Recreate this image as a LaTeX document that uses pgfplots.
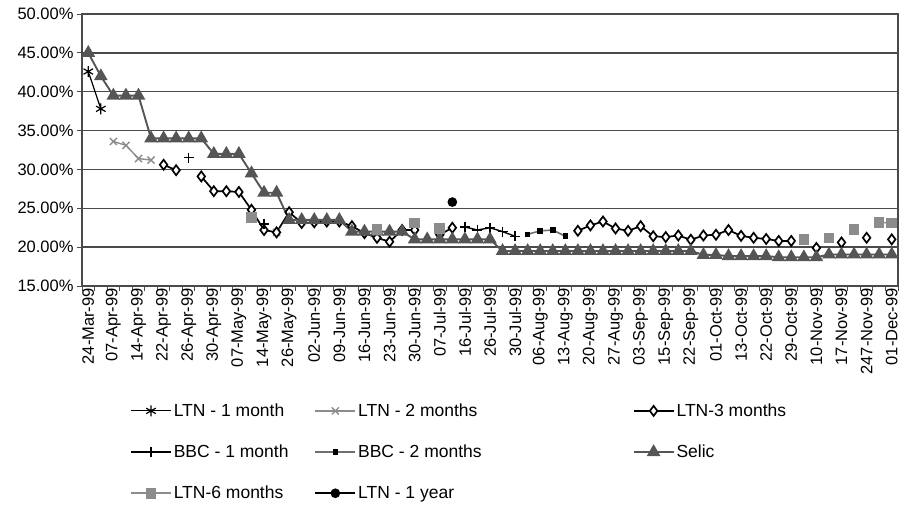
\documentclass[border=0pt]{standalone}
\usepackage{pgfplots}
\pgfplotsset{compat=1.18}
\usepackage{pgfplotstable}
\usepackage{fontspec}
\setmainfont{Liberation Sans}

\definecolor{selicgray}{HTML}{555555}
\definecolor{lightgr}{HTML}{8C8C8C}
\definecolor{midgr}{HTML}{707070}
\definecolor{gridc}{HTML}{4A4A4A}

% i = category (trading day shown), values in %
\pgfplotstableread{
i  ltnA ltnB ltnC  bbcA bbcB  selic ltnF ltnY
0  42.6 nan  nan   nan  nan   45.0  nan  nan
1  37.8 nan  nan   nan  nan   42.0  nan  nan
2  nan  33.6 nan   nan  nan   39.5  nan  nan
3  nan  33.1 nan   nan  nan   39.5  nan  nan
4  nan  31.4 nan   nan  nan   39.5  nan  nan
5  nan  31.2 nan   nan  nan   34.0  nan  nan
6  nan  nan  30.6  nan  nan   34.0  nan  nan
7  nan  nan  29.9  nan  nan   34.0  nan  nan
8  nan  nan  nan   31.5 nan   34.0  nan  nan
9  nan  nan  29.1  nan  nan   34.0  nan  nan
10 nan  nan  27.2  nan  nan   32.0  nan  nan
11 nan  nan  27.2  nan  nan   32.0  nan  nan
12 nan  nan  27.1  nan  nan   32.0  nan  nan
13 nan  nan  24.8  nan  nan   29.5  23.8 nan
14 nan  nan  22.2  23.0 nan   27.0  nan  nan
15 nan  21.9 21.9  nan  nan   27.0  nan  nan
16 nan  nan  24.5  nan  nan   23.5  nan  nan
17 nan  nan  23.1  nan  nan   23.5  nan  nan
18 nan  nan  23.2  nan  nan   23.5  nan  nan
19 nan  nan  23.3  nan  nan   23.5  nan  nan
20 nan  nan  23.3  nan  nan   23.5  nan  nan
21 nan  nan  22.7  nan  nan   22.0  nan  nan
22 nan  nan  21.8  nan  nan   22.0  nan  nan
23 nan  nan  21.2  nan  nan   22.0  22.3 nan
24 nan  nan  20.7  nan  nan   22.0  nan  nan
25 nan  nan  22.2  nan  nan   22.0  nan  nan
26 nan  nan  22.2  nan  nan   21.0  23.1 nan
27 nan  nan  nan   nan  nan   21.0  nan  nan
28 nan  nan  21.6  nan  nan   21.0  22.4 nan
29 nan  nan  22.5  nan  nan   21.0  nan  25.8
30 nan  nan  nan   22.6 nan   21.0  nan  nan
31 nan  nan  nan   22.2 nan   21.0  nan  nan
32 nan  nan  nan   22.5 nan   21.0  nan  nan
33 nan  nan  nan   22.0 nan   19.5  nan  nan
34 nan  nan  nan   21.4 nan   19.5  nan  nan
35 nan  nan  nan   nan  21.65 19.5 nan  nan
36 nan  nan  nan   nan  22.1 19.5  nan  nan
37 nan  nan  nan   nan  22.2 19.5  nan  nan
38 nan  nan  nan   nan  21.4 19.5  nan  nan
39 nan  nan  22.1  nan  nan   19.5  nan  nan
40 nan  nan  22.8  nan  nan   19.5  nan  nan
41 nan  nan  23.3  nan  nan   19.5  nan  nan
42 nan  nan  22.4  nan  nan   19.5  nan  nan
43 nan  nan  22.1  nan  nan   19.5  nan  nan
44 nan  nan  22.7  nan  nan   19.5  nan  nan
45 nan  nan  21.4  nan  nan   19.5  nan  nan
46 nan  nan  21.3  nan  nan   19.5  nan  nan
47 nan  nan  21.5  nan  nan   19.5  nan  nan
48 nan  nan  20.95 nan  nan   19.5  nan  nan
49 nan  nan  21.5  nan  nan   19.0  nan  nan
50 nan  nan  21.6  nan  nan   19.0  nan  nan
51 nan  nan  22.2  nan  nan   18.85 nan  nan
52 nan  nan  21.45 nan  nan   18.85 nan  nan
53 nan  nan  21.2  nan  nan   18.85 nan  nan
54 nan  nan  21.05 nan  nan   18.85 nan  nan
55 nan  nan  20.8  nan  nan   18.7  nan  nan
56 nan  nan  20.8  nan  nan   18.7  nan  nan
57 nan  nan  nan   nan  nan   18.7  21.0 nan
58 nan  nan  19.9  nan  nan   18.7  nan  nan
59 nan  nan  nan   nan  nan   19.05 21.2 nan
60 nan  nan  20.6  nan  nan   19.05 nan  nan
61 nan  nan  nan   nan  nan   19.05 22.3 nan
62 nan  nan  21.2  nan  nan   19.05 nan  nan
63 nan  nan  nan   nan  nan   19.05 23.2 nan
64 nan  nan  21.0  nan  nan   19.05 23.1 nan
}\rates

\begin{document}
\begin{tikzpicture}
\path[use as bounding box] (0,0) rectangle (902pt,504pt);
\begin{axis}[
    at={(82pt,218pt)}, anchor=south west,
    scale only axis, width=816pt, height=272pt,
    xmin=-0.5, xmax=64.5, ymin=15, ymax=50,
    font=\fontsize{16.5}{19}\selectfont,
    ytick={15,20,...,50},
    yticklabels={15.00\%,20.00\%,25.00\%,30.00\%,35.00\%,40.00\%,45.00\%,50.00\%},
    ymajorgrids,
    grid style={gridc, line width=1.3pt},
    axis line style={gridc, line width=1.3pt},
    tick style={gridc, line width=1pt},
    tick align=outside, major tick length=5pt, tick pos=left,
    xtick={-0.5,0.5,...,64.5}, xticklabels={},
    extra x ticks={0,2,...,64},
    extra x tick labels={24-Mar-99,07-Apr-99,14-Apr-99,22-Apr-99,26-Apr-99,30-Apr-99,07-May-99,14-May-99,26-May-99,02-Jun-99,09-Jun-99,16-Jun-99,23-Jun-99,30-Jun-99,07-Jul-99,16-Jul-99,26-Jul-99,30-Jul-99,06-Aug-99,13-Aug-99,20-Aug-99,27-Aug-99,03-Sep-99,15-Sep-99,22-Sep-99,01-Oct-99,13-Oct-99,22-Oct-99,29-Oct-99,10-Nov-99,17-Nov-99,247-Nov-99,01-Dec-99},
    extra x tick style={major tick length=0pt, grid=none,
        tick label style={rotate=90, anchor=east, inner sep=2pt}},
    unbounded coords=jump,
    legend columns=3,
    legend cell align=left,
    legend image code/.code={\draw[mark repeat=2,mark phase=2,#1] plot coordinates {(0pt,0pt) (20pt,0pt) (40pt,0pt)};},
    legend style={at={(0.0588,-0.425)}, anchor=north west, draw=none, fill=none,
        inner sep=0pt, row sep=23pt,
        font=\fontsize{17.5}{20}\selectfont,
        /tikz/column 2/.style={column sep=24pt},
        /tikz/column 4/.style={column sep=149pt}},
]
\addplot[black, line width=1.2pt, mark=asterisk, mark size=5.5pt] table[x=i, y=ltnA] {\rates};
\addlegendentry{LTN - 1 month}
\addplot[lightgr, line width=1.4pt, mark=x, mark size=5pt] table[x=i, y=ltnB] {\rates};
\addlegendentry{LTN - 2 months}
\addplot[black, line width=1.7pt, mark=diamond*, mark size=5pt, mark options={fill=white}] table[x=i, y=ltnC] {\rates};
\addlegendentry{LTN-3 months}
\addplot[black, line width=1.4pt, mark=+, mark size=5pt] table[x=i, y=bbcA] {\rates};
\addlegendentry{BBC - 1 month}
\addplot[midgr, line width=1.6pt, mark=square*, mark size=2pt, mark options={black}] table[x=i, y=bbcB] {\rates};
\addlegendentry{BBC - 2 months}
\addplot[selicgray, line width=1.9pt, mark=triangle*, mark size=6pt] table[x=i, y=selic] {\rates};
\addlegendentry{Selic}
\addplot[lightgr, line width=1.6pt, mark=square*, mark size=4.5pt] table[x=i, y=ltnF] {\rates};
\addlegendentry{LTN-6 months}
\addplot[black, line width=1.6pt, mark=*, mark size=4pt] table[x=i, y=ltnY] {\rates};
\addlegendentry{LTN - 1 year}
\end{axis}
\end{tikzpicture}
\end{document}
